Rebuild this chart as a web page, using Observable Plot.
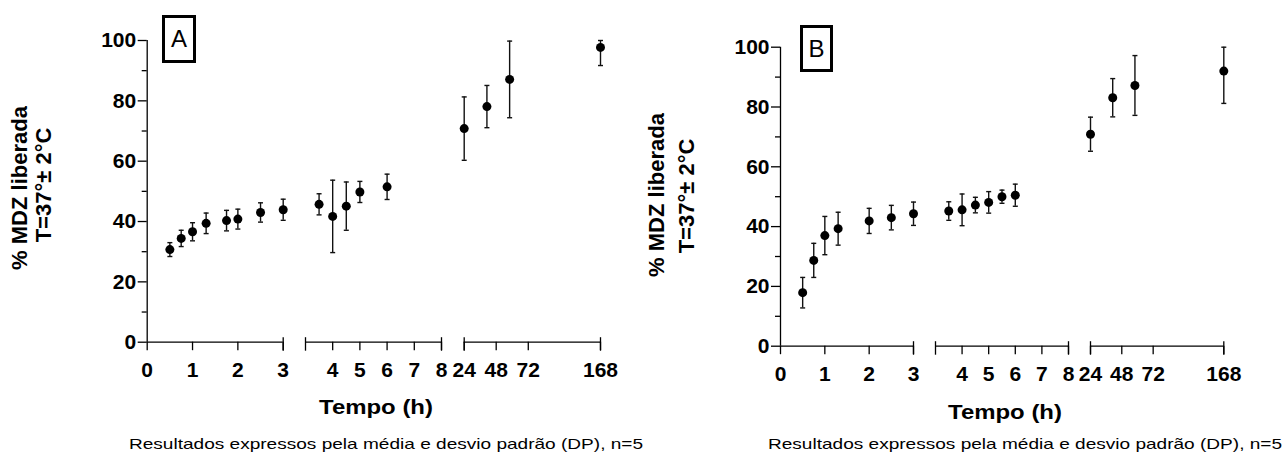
<!DOCTYPE html>
<html><head><meta charset="utf-8">
<script src="https://cdn.jsdelivr.net/npm/d3@7"></script>
<script src="https://cdn.jsdelivr.net/npm/@observablehq/plot@0.6"></script>
<style>
body{margin:0;background:#fff;}
#root{position:relative;width:1285px;height:453px;overflow:hidden;font-family:'Liberation Sans',Arial,sans-serif;color:#000;background:#fff;}
.panel{position:absolute;top:0;}
.lbl{position:absolute;white-space:nowrap;line-height:1;}
.box{position:absolute;box-sizing:border-box;border:3px solid #000;display:flex;align-items:center;justify-content:center;font-size:24px;line-height:1;}
</style></head><body><div id="root"></div><script>
// ---- data ----
const timesA = [0.5, 0.75, 1, 1.3, 1.75, 2, 2.5, 3, 3.5, 4, 4.5, 5, 6, 24, 48, 72, 168];
const meanA  = [30.7, 34.4, 36.6, 39.4, 40.3, 40.8, 43.0, 43.9, 45.7, 41.7, 45.1, 49.8, 51.5, 70.8, 78.1, 87.1, 97.7];
const sdA    = [2.3, 2.7, 3.0, 3.4, 3.4, 3.3, 3.2, 3.5, 3.5, 12.0, 8.0, 3.5, 4.2, 10.5, 7.0, 12.7, 6.0];
const timesB = [0.5, 0.75, 1, 1.3, 2, 2.5, 3, 3.5, 4, 4.5, 5, 5.5, 6, 24, 48, 72, 168];
const meanB  = [17.9, 28.7, 37.0, 39.3, 41.9, 43.0, 44.3, 45.2, 45.6, 47.2, 48.1, 50.0, 50.5, 70.9, 83.1, 87.2, 92.0];
const sdB    = [5.1, 5.7, 6.4, 5.5, 4.2, 4.1, 3.9, 3.1, 5.3, 2.6, 3.6, 2.2, 3.7, 5.7, 6.4, 10.0, 10.8];
// broken x axis segments (hours)
const segStart = [0, 3, 24];
const segEnd   = [3, 8, 168];
// x tick positions (as drawn) and their labels
const xTickValues = [0, 1, 2, 3, 4, 5, 6, 7, 8, 24, 57.8, 91.7, 168];
const xTickLabels = ["0", "1", "2", "3", "4", "5", "6", "7", "8", "24", "48", "72", "168"];
const yMajor = [0, 20, 40, 60, 80, 100];
const yMinor = [10, 30, 50, 70, 90];
const yTitle1 = "% MDZ liberada";
const yTitle2 = "T=37°± 2°C";
const xTitle = "Tempo (h)";
const caption = "Resultados expressos pela média e desvio padrão (DP), n=5";
const panelLetters = ["A", "B"];

// ---- drawing ----
const labelOf = new Map(xTickValues.map((v, i) => [v, xTickLabels[i]]));
const vCap = {draw(ctx) { ctx.moveTo(0, -5); ctx.lineTo(0, 8.5); }};
const hCap = {draw(ctx) { ctx.moveTo(-2.5, 0); ctx.lineTo(2.5, 0); }};
const EPS = 1e-3;

function makePanel({times, means, sds, ranges, top, bottom, width}) {
  const data = times.map((t, i) => ({t, m: means[i], sd: sds[i]}));
  const domain = [], caps = [], segs = [];
  segStart.forEach((s, i) => {
    const s2 = (i > 0 && s === segEnd[i - 1]) ? s + EPS : s;
    domain.push(s2, segEnd[i]);
    segs.push({s: s2, e: segEnd[i]});
    if (i > 0) caps.push(s2);
    caps.push(segEnd[i]);
  });
  const sw = 1.3;
  return Plot.plot({
    width, height: 453,
    marginTop: top, marginBottom: 453 - bottom,
    marginLeft: ranges[0], marginRight: width - ranges[ranges.length - 1],
    x: {type: "linear", domain, range: ranges, label: null},
    y: {domain: [0, 100], clamp: true, label: null},
    style: {fontFamily: "'Liberation Sans', Arial, sans-serif", color: "#000", background: "transparent", overflow: "visible"},
    marks: [
      Plot.ruleX([0], {y1: 0, y2: 100, strokeWidth: sw}),
      Plot.ruleY(segs, {x1: "s", x2: "e", y: 0, strokeWidth: sw}),
      Plot.axisY({ticks: yMajor, tickSize: 9, tickPadding: 2, fontSize: 21, fontWeight: "bold", strokeWidth: sw, label: null}),
      Plot.axisY({ticks: yMinor, tickSize: 5, tickFormat: () => "", strokeWidth: sw, label: null}),
      Plot.axisX({ticks: xTickValues, tickSize: 8.5, tickPadding: 11, tickFormat: d => labelOf.get(d), fontSize: 21, fontWeight: "bold", strokeWidth: sw, label: null}),
      Plot.dot(caps, {x: d => d, y: 0, symbol: vCap, r: 3, stroke: "#000", fill: "none", strokeWidth: sw}),
      Plot.ruleX(data, {x: "t", y1: d => d.m - d.sd, y2: d => d.m + d.sd, strokeWidth: 1.4, stroke: "#111"}),
      Plot.dot(data, {x: "t", y: d => d.m - d.sd, symbol: hCap, r: 3, stroke: "#111", fill: "none", strokeWidth: 1.4}),
      Plot.dot(data, {x: "t", y: d => d.m + d.sd, symbol: hCap, r: 3, stroke: "#111", fill: "none", strokeWidth: 1.4}),
      Plot.dot(data, {x: "t", y: "m", r: 4.5, fill: "#000", stroke: "none"})
    ]
  });
}

const root = document.getElementById("root");
const layouts = [
  {left: 0, width: 640, ranges: [146.7, 282.7, 305, 441, 463.7, 600], top: 40, bottom: 341.7,
   yl1: [20, 188], yl2: [44, 185], xt: [376, 413.3], cap: [386, 448.3], box: [162, 15, 34, 48]},
  {left: 640, width: 645, ranges: [140, 273, 295, 428, 450, 583.3], top: 46.7, bottom: 345.7,
   yl1: [657, 195], yl2: [687, 196], xt: [1005, 418.3], cap: [1025, 448.3], box: [800, 25, 33, 47]}
];
const series = [[timesA, meanA, sdA], [timesB, meanB, sdB]];

layouts.forEach((L, k) => {
  const [times, means, sds] = series[k];
  const svg = makePanel({times, means, sds, ranges: L.ranges, top: L.top, bottom: L.bottom, width: L.width});
  const wrap = document.createElement("div");
  wrap.className = "panel";
  wrap.style.left = L.left + "px";
  wrap.appendChild(svg);
  root.appendChild(wrap);

  const add = (text, css) => {
    const d = document.createElement("div");
    d.className = "lbl";
    d.textContent = text;
    Object.assign(d.style, css);
    root.appendChild(d);
    return d;
  };
  add(yTitle1, {left: L.yl1[0] + "px", top: L.yl1[1] + "px", fontSize: "22px", fontWeight: "bold", transform: "translate(-50%,-50%) rotate(-90deg)"});
  add(yTitle2, {left: L.yl2[0] + "px", top: L.yl2[1] + "px", fontSize: "22px", fontWeight: "bold", transform: "translate(-50%,-50%) rotate(-90deg)"});
  add(xTitle, {left: L.xt[0] + "px", top: (L.xt[1] - 0.8465 * 21) + "px", fontSize: "21px", fontWeight: "bold", transform: "translate(-50%,0) scaleX(1.14)"});
  add(caption, {left: L.cap[0] + "px", top: (L.cap[1] - 0.8465 * 15) + "px", fontSize: "15px", transform: "translate(-50%,0) scaleX(1.27)"});
  const b = document.createElement("div");
  b.className = "box";
  b.textContent = panelLetters[k];
  Object.assign(b.style, {left: L.box[0] + "px", top: L.box[1] + "px", width: L.box[2] + "px", height: L.box[3] + "px"});
  root.appendChild(b);
});
</script></body></html>
